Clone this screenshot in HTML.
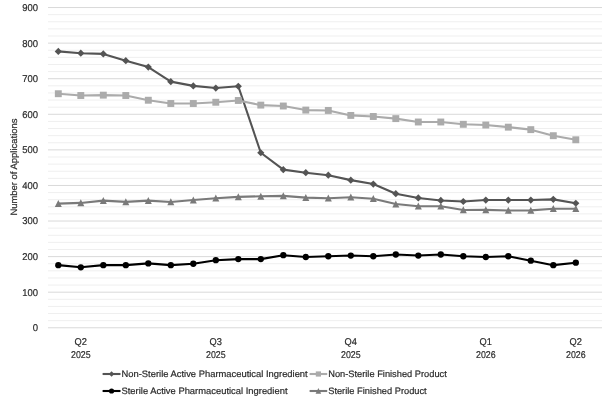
<!DOCTYPE html>
<html><head><meta charset="utf-8"><style>
html,body{margin:0;padding:0;background:#fff;width:602px;height:399px;overflow:hidden}
svg{display:block;will-change:transform;text-rendering:geometricPrecision}
.t{font-family:"Liberation Sans",sans-serif;font-size:9.3px;fill:#2a2a2a;stroke:#2a2a2a;stroke-width:0.2px}
.a{font-family:"Liberation Sans",sans-serif;font-size:9.9px;fill:#2a2a2a;stroke:#2a2a2a;stroke-width:0.2px}
</style></head><body>
<svg width="602" height="399" viewBox="0 0 602 399">
<line x1="48" x2="602" y1="320.66" y2="320.66" stroke="#EFEFEF" stroke-width="1"/>
<line x1="48" x2="602" y1="313.55" y2="313.55" stroke="#EFEFEF" stroke-width="1"/>
<line x1="48" x2="602" y1="306.43" y2="306.43" stroke="#EFEFEF" stroke-width="1"/>
<line x1="48" x2="602" y1="299.32" y2="299.32" stroke="#EFEFEF" stroke-width="1"/>
<line x1="48" x2="602" y1="285.08" y2="285.08" stroke="#EFEFEF" stroke-width="1"/>
<line x1="48" x2="602" y1="277.97" y2="277.97" stroke="#EFEFEF" stroke-width="1"/>
<line x1="48" x2="602" y1="270.85" y2="270.85" stroke="#EFEFEF" stroke-width="1"/>
<line x1="48" x2="602" y1="263.73" y2="263.73" stroke="#EFEFEF" stroke-width="1"/>
<line x1="48" x2="602" y1="249.50" y2="249.50" stroke="#EFEFEF" stroke-width="1"/>
<line x1="48" x2="602" y1="242.39" y2="242.39" stroke="#EFEFEF" stroke-width="1"/>
<line x1="48" x2="602" y1="235.27" y2="235.27" stroke="#EFEFEF" stroke-width="1"/>
<line x1="48" x2="602" y1="228.15" y2="228.15" stroke="#EFEFEF" stroke-width="1"/>
<line x1="48" x2="602" y1="213.92" y2="213.92" stroke="#EFEFEF" stroke-width="1"/>
<line x1="48" x2="602" y1="206.80" y2="206.80" stroke="#EFEFEF" stroke-width="1"/>
<line x1="48" x2="602" y1="199.69" y2="199.69" stroke="#EFEFEF" stroke-width="1"/>
<line x1="48" x2="602" y1="192.57" y2="192.57" stroke="#EFEFEF" stroke-width="1"/>
<line x1="48" x2="602" y1="178.34" y2="178.34" stroke="#EFEFEF" stroke-width="1"/>
<line x1="48" x2="602" y1="171.22" y2="171.22" stroke="#EFEFEF" stroke-width="1"/>
<line x1="48" x2="602" y1="164.11" y2="164.11" stroke="#EFEFEF" stroke-width="1"/>
<line x1="48" x2="602" y1="156.99" y2="156.99" stroke="#EFEFEF" stroke-width="1"/>
<line x1="48" x2="602" y1="142.76" y2="142.76" stroke="#EFEFEF" stroke-width="1"/>
<line x1="48" x2="602" y1="135.64" y2="135.64" stroke="#EFEFEF" stroke-width="1"/>
<line x1="48" x2="602" y1="128.53" y2="128.53" stroke="#EFEFEF" stroke-width="1"/>
<line x1="48" x2="602" y1="121.41" y2="121.41" stroke="#EFEFEF" stroke-width="1"/>
<line x1="48" x2="602" y1="107.18" y2="107.18" stroke="#EFEFEF" stroke-width="1"/>
<line x1="48" x2="602" y1="100.06" y2="100.06" stroke="#EFEFEF" stroke-width="1"/>
<line x1="48" x2="602" y1="92.95" y2="92.95" stroke="#EFEFEF" stroke-width="1"/>
<line x1="48" x2="602" y1="85.83" y2="85.83" stroke="#EFEFEF" stroke-width="1"/>
<line x1="48" x2="602" y1="71.60" y2="71.60" stroke="#EFEFEF" stroke-width="1"/>
<line x1="48" x2="602" y1="64.48" y2="64.48" stroke="#EFEFEF" stroke-width="1"/>
<line x1="48" x2="602" y1="57.36" y2="57.36" stroke="#EFEFEF" stroke-width="1"/>
<line x1="48" x2="602" y1="50.25" y2="50.25" stroke="#EFEFEF" stroke-width="1"/>
<line x1="48" x2="602" y1="36.02" y2="36.02" stroke="#EFEFEF" stroke-width="1"/>
<line x1="48" x2="602" y1="28.90" y2="28.90" stroke="#EFEFEF" stroke-width="1"/>
<line x1="48" x2="602" y1="21.78" y2="21.78" stroke="#EFEFEF" stroke-width="1"/>
<line x1="48" x2="602" y1="14.67" y2="14.67" stroke="#EFEFEF" stroke-width="1"/>
<line x1="48" x2="602" y1="327.78" y2="327.78" stroke="#D9D9D9" stroke-width="1"/>
<line x1="48" x2="602" y1="292.20" y2="292.20" stroke="#D9D9D9" stroke-width="1"/>
<line x1="48" x2="602" y1="256.62" y2="256.62" stroke="#D9D9D9" stroke-width="1"/>
<line x1="48" x2="602" y1="221.04" y2="221.04" stroke="#D9D9D9" stroke-width="1"/>
<line x1="48" x2="602" y1="185.46" y2="185.46" stroke="#D9D9D9" stroke-width="1"/>
<line x1="48" x2="602" y1="149.87" y2="149.87" stroke="#D9D9D9" stroke-width="1"/>
<line x1="48" x2="602" y1="114.29" y2="114.29" stroke="#D9D9D9" stroke-width="1"/>
<line x1="48" x2="602" y1="78.71" y2="78.71" stroke="#D9D9D9" stroke-width="1"/>
<line x1="48" x2="602" y1="43.13" y2="43.13" stroke="#D9D9D9" stroke-width="1"/>
<line x1="48" x2="602" y1="7.55" y2="7.55" stroke="#D9D9D9" stroke-width="1"/>
<text x="38.0" y="331.18" text-anchor="end" class="a" textLength="5.3" lengthAdjust="spacingAndGlyphs">0</text>
<text x="38.0" y="295.60" text-anchor="end" class="a" textLength="15.8" lengthAdjust="spacingAndGlyphs">100</text>
<text x="38.0" y="260.02" text-anchor="end" class="a" textLength="15.8" lengthAdjust="spacingAndGlyphs">200</text>
<text x="38.0" y="224.44" text-anchor="end" class="a" textLength="15.8" lengthAdjust="spacingAndGlyphs">300</text>
<text x="38.0" y="188.86" text-anchor="end" class="a" textLength="15.8" lengthAdjust="spacingAndGlyphs">400</text>
<text x="38.0" y="153.27" text-anchor="end" class="a" textLength="15.8" lengthAdjust="spacingAndGlyphs">500</text>
<text x="38.0" y="117.69" text-anchor="end" class="a" textLength="15.8" lengthAdjust="spacingAndGlyphs">600</text>
<text x="38.0" y="82.11" text-anchor="end" class="a" textLength="15.8" lengthAdjust="spacingAndGlyphs">700</text>
<text x="38.0" y="46.53" text-anchor="end" class="a" textLength="15.8" lengthAdjust="spacingAndGlyphs">800</text>
<text x="38.0" y="10.95" text-anchor="end" class="a" textLength="15.8" lengthAdjust="spacingAndGlyphs">900</text>
<text x="80.80" y="345.2" text-anchor="middle" class="a" textLength="12.4" lengthAdjust="spacingAndGlyphs">Q2</text>
<text x="80.80" y="357.5" text-anchor="middle" class="a" textLength="19.6" lengthAdjust="spacingAndGlyphs">2025</text>
<text x="215.80" y="345.2" text-anchor="middle" class="a" textLength="12.4" lengthAdjust="spacingAndGlyphs">Q3</text>
<text x="215.80" y="357.5" text-anchor="middle" class="a" textLength="19.6" lengthAdjust="spacingAndGlyphs">2025</text>
<text x="350.80" y="345.2" text-anchor="middle" class="a" textLength="12.4" lengthAdjust="spacingAndGlyphs">Q4</text>
<text x="350.80" y="357.5" text-anchor="middle" class="a" textLength="19.6" lengthAdjust="spacingAndGlyphs">2025</text>
<text x="485.80" y="345.2" text-anchor="middle" class="a" textLength="12.4" lengthAdjust="spacingAndGlyphs">Q1</text>
<text x="485.80" y="357.5" text-anchor="middle" class="a" textLength="19.6" lengthAdjust="spacingAndGlyphs">2026</text>
<text x="575.80" y="345.2" text-anchor="middle" class="a" textLength="12.4" lengthAdjust="spacingAndGlyphs">Q2</text>
<text x="575.80" y="357.5" text-anchor="middle" class="a" textLength="19.6" lengthAdjust="spacingAndGlyphs">2026</text>
<text transform="translate(17.1,167.05) rotate(-90)" text-anchor="middle" class="t" textLength="97" lengthAdjust="spacingAndGlyphs">Number of Applications</text>
<polyline fill="none" stroke="#545454" stroke-width="2.1" stroke-linejoin="round" points="58.30,51.40 80.80,53.18 103.30,53.89 125.80,60.65 148.30,67.05 170.80,81.63 193.30,85.90 215.80,88.04 238.30,86.26 260.80,152.77 283.30,169.66 305.80,172.68 328.30,175.17 350.80,180.15 373.30,184.07 395.80,193.67 418.30,197.94 440.80,200.43 463.30,201.49 485.80,200.07 508.30,200.07 530.80,200.07 553.30,199.36 575.80,203.27"/>
<path d="M58.30 47.80L61.90 51.40L58.30 55.00L54.70 51.40Z" fill="#545454"/>
<path d="M80.80 49.58L84.40 53.18L80.80 56.78L77.20 53.18Z" fill="#545454"/>
<path d="M103.30 50.29L106.90 53.89L103.30 57.49L99.70 53.89Z" fill="#545454"/>
<path d="M125.80 57.05L129.40 60.65L125.80 64.25L122.20 60.65Z" fill="#545454"/>
<path d="M148.30 63.45L151.90 67.05L148.30 70.65L144.70 67.05Z" fill="#545454"/>
<path d="M170.80 78.03L174.40 81.63L170.80 85.23L167.20 81.63Z" fill="#545454"/>
<path d="M193.30 82.30L196.90 85.90L193.30 89.50L189.70 85.90Z" fill="#545454"/>
<path d="M215.80 84.44L219.40 88.04L215.80 91.64L212.20 88.04Z" fill="#545454"/>
<path d="M238.30 82.66L241.90 86.26L238.30 89.86L234.70 86.26Z" fill="#545454"/>
<path d="M260.80 149.17L264.40 152.77L260.80 156.37L257.20 152.77Z" fill="#545454"/>
<path d="M283.30 166.06L286.90 169.66L283.30 173.26L279.70 169.66Z" fill="#545454"/>
<path d="M305.80 169.08L309.40 172.68L305.80 176.28L302.20 172.68Z" fill="#545454"/>
<path d="M328.30 171.57L331.90 175.17L328.30 178.77L324.70 175.17Z" fill="#545454"/>
<path d="M350.80 176.55L354.40 180.15L350.80 183.75L347.20 180.15Z" fill="#545454"/>
<path d="M373.30 180.47L376.90 184.07L373.30 187.67L369.70 184.07Z" fill="#545454"/>
<path d="M395.80 190.07L399.40 193.67L395.80 197.27L392.20 193.67Z" fill="#545454"/>
<path d="M418.30 194.34L421.90 197.94L418.30 201.54L414.70 197.94Z" fill="#545454"/>
<path d="M440.80 196.83L444.40 200.43L440.80 204.03L437.20 200.43Z" fill="#545454"/>
<path d="M463.30 197.89L466.90 201.49L463.30 205.09L459.70 201.49Z" fill="#545454"/>
<path d="M485.80 196.47L489.40 200.07L485.80 203.67L482.20 200.07Z" fill="#545454"/>
<path d="M508.30 196.47L511.90 200.07L508.30 203.67L504.70 200.07Z" fill="#545454"/>
<path d="M530.80 196.47L534.40 200.07L530.80 203.67L527.20 200.07Z" fill="#545454"/>
<path d="M553.30 195.76L556.90 199.36L553.30 202.96L549.70 199.36Z" fill="#545454"/>
<path d="M575.80 199.67L579.40 203.27L575.80 206.87L572.20 203.27Z" fill="#545454"/>
<polyline fill="none" stroke="#ABABAB" stroke-width="2.1" stroke-linejoin="round" points="58.30,93.73 80.80,95.51 103.30,95.15 125.80,95.51 148.30,100.24 170.80,103.51 193.30,103.51 215.80,102.26 238.30,100.48 260.80,105.11 283.30,106.00 305.80,110.09 328.30,110.44 350.80,115.42 373.30,116.49 395.80,118.62 418.30,122.00 440.80,122.00 463.30,124.31 485.80,125.03 508.30,127.16 530.80,129.65 553.30,135.70 575.80,139.79"/>
<rect x="54.85" y="90.28" width="6.90" height="6.90" fill="#ABABAB"/>
<rect x="77.35" y="92.06" width="6.90" height="6.90" fill="#ABABAB"/>
<rect x="99.85" y="91.70" width="6.90" height="6.90" fill="#ABABAB"/>
<rect x="122.35" y="92.06" width="6.90" height="6.90" fill="#ABABAB"/>
<rect x="144.85" y="96.79" width="6.90" height="6.90" fill="#ABABAB"/>
<rect x="167.35" y="100.06" width="6.90" height="6.90" fill="#ABABAB"/>
<rect x="189.85" y="100.06" width="6.90" height="6.90" fill="#ABABAB"/>
<rect x="212.35" y="98.81" width="6.90" height="6.90" fill="#ABABAB"/>
<rect x="234.85" y="97.03" width="6.90" height="6.90" fill="#ABABAB"/>
<rect x="257.35" y="101.66" width="6.90" height="6.90" fill="#ABABAB"/>
<rect x="279.85" y="102.55" width="6.90" height="6.90" fill="#ABABAB"/>
<rect x="302.35" y="106.64" width="6.90" height="6.90" fill="#ABABAB"/>
<rect x="324.85" y="106.99" width="6.90" height="6.90" fill="#ABABAB"/>
<rect x="347.35" y="111.97" width="6.90" height="6.90" fill="#ABABAB"/>
<rect x="369.85" y="113.04" width="6.90" height="6.90" fill="#ABABAB"/>
<rect x="392.35" y="115.17" width="6.90" height="6.90" fill="#ABABAB"/>
<rect x="414.85" y="118.55" width="6.90" height="6.90" fill="#ABABAB"/>
<rect x="437.35" y="118.55" width="6.90" height="6.90" fill="#ABABAB"/>
<rect x="459.85" y="120.86" width="6.90" height="6.90" fill="#ABABAB"/>
<rect x="482.35" y="121.58" width="6.90" height="6.90" fill="#ABABAB"/>
<rect x="504.85" y="123.71" width="6.90" height="6.90" fill="#ABABAB"/>
<rect x="527.35" y="126.20" width="6.90" height="6.90" fill="#ABABAB"/>
<rect x="549.85" y="132.25" width="6.90" height="6.90" fill="#ABABAB"/>
<rect x="572.35" y="136.34" width="6.90" height="6.90" fill="#ABABAB"/>
<polyline fill="none" stroke="#000000" stroke-width="2.1" stroke-linejoin="round" points="58.30,265.16 80.80,267.29 103.30,265.16 125.80,265.16 148.30,263.38 170.80,265.16 193.30,263.74 215.80,260.18 238.30,259.11 260.80,259.11 283.30,255.20 305.80,256.98 328.30,256.27 350.80,255.56 373.30,256.27 395.80,254.49 418.30,255.56 440.80,254.49 463.30,256.27 485.80,256.98 508.30,256.27 530.80,260.71 553.30,265.16 575.80,262.67"/>
<circle cx="58.30" cy="265.16" r="3.15" fill="#000000"/>
<circle cx="80.80" cy="267.29" r="3.15" fill="#000000"/>
<circle cx="103.30" cy="265.16" r="3.15" fill="#000000"/>
<circle cx="125.80" cy="265.16" r="3.15" fill="#000000"/>
<circle cx="148.30" cy="263.38" r="3.15" fill="#000000"/>
<circle cx="170.80" cy="265.16" r="3.15" fill="#000000"/>
<circle cx="193.30" cy="263.74" r="3.15" fill="#000000"/>
<circle cx="215.80" cy="260.18" r="3.15" fill="#000000"/>
<circle cx="238.30" cy="259.11" r="3.15" fill="#000000"/>
<circle cx="260.80" cy="259.11" r="3.15" fill="#000000"/>
<circle cx="283.30" cy="255.20" r="3.15" fill="#000000"/>
<circle cx="305.80" cy="256.98" r="3.15" fill="#000000"/>
<circle cx="328.30" cy="256.27" r="3.15" fill="#000000"/>
<circle cx="350.80" cy="255.56" r="3.15" fill="#000000"/>
<circle cx="373.30" cy="256.27" r="3.15" fill="#000000"/>
<circle cx="395.80" cy="254.49" r="3.15" fill="#000000"/>
<circle cx="418.30" cy="255.56" r="3.15" fill="#000000"/>
<circle cx="440.80" cy="254.49" r="3.15" fill="#000000"/>
<circle cx="463.30" cy="256.27" r="3.15" fill="#000000"/>
<circle cx="485.80" cy="256.98" r="3.15" fill="#000000"/>
<circle cx="508.30" cy="256.27" r="3.15" fill="#000000"/>
<circle cx="530.80" cy="260.71" r="3.15" fill="#000000"/>
<circle cx="553.30" cy="265.16" r="3.15" fill="#000000"/>
<circle cx="575.80" cy="262.67" r="3.15" fill="#000000"/>
<polyline fill="none" stroke="#7A7A7A" stroke-width="2.1" stroke-linejoin="round" points="58.30,203.63 80.80,202.92 103.30,200.60 125.80,201.85 148.30,200.60 170.80,201.99 193.30,200.07 215.80,198.29 238.30,196.87 260.80,196.30 283.30,195.91 305.80,197.58 328.30,198.29 350.80,197.30 373.30,198.79 395.80,204.05 418.30,206.22 440.80,206.22 463.30,210.03 485.80,209.92 508.30,210.46 530.80,210.39 553.30,208.71 575.80,208.71"/>
<path d="M58.30 199.95L61.80 206.95L54.80 206.95Z" fill="#7A7A7A"/>
<path d="M80.80 199.24L84.30 206.24L77.30 206.24Z" fill="#7A7A7A"/>
<path d="M103.30 196.93L106.80 203.93L99.80 203.93Z" fill="#7A7A7A"/>
<path d="M125.80 198.17L129.30 205.17L122.30 205.17Z" fill="#7A7A7A"/>
<path d="M148.30 196.93L151.80 203.93L144.80 203.93Z" fill="#7A7A7A"/>
<path d="M170.80 198.32L174.30 205.32L167.30 205.32Z" fill="#7A7A7A"/>
<path d="M193.30 196.40L196.80 203.40L189.80 203.40Z" fill="#7A7A7A"/>
<path d="M215.80 194.62L219.30 201.62L212.30 201.62Z" fill="#7A7A7A"/>
<path d="M238.30 193.20L241.80 200.20L234.80 200.20Z" fill="#7A7A7A"/>
<path d="M260.80 192.63L264.30 199.63L257.30 199.63Z" fill="#7A7A7A"/>
<path d="M283.30 192.24L286.80 199.24L279.80 199.24Z" fill="#7A7A7A"/>
<path d="M305.80 193.91L309.30 200.91L302.30 200.91Z" fill="#7A7A7A"/>
<path d="M328.30 194.62L331.80 201.62L324.80 201.62Z" fill="#7A7A7A"/>
<path d="M350.80 193.62L354.30 200.62L347.30 200.62Z" fill="#7A7A7A"/>
<path d="M373.30 195.12L376.80 202.12L369.80 202.12Z" fill="#7A7A7A"/>
<path d="M395.80 200.38L399.30 207.38L392.30 207.38Z" fill="#7A7A7A"/>
<path d="M418.30 202.55L421.80 209.55L414.80 209.55Z" fill="#7A7A7A"/>
<path d="M440.80 202.55L444.30 209.55L437.30 209.55Z" fill="#7A7A7A"/>
<path d="M463.30 206.35L466.80 213.35L459.80 213.35Z" fill="#7A7A7A"/>
<path d="M485.80 206.25L489.30 213.25L482.30 213.25Z" fill="#7A7A7A"/>
<path d="M508.30 206.78L511.80 213.78L504.80 213.78Z" fill="#7A7A7A"/>
<path d="M530.80 206.71L534.30 213.71L527.30 213.71Z" fill="#7A7A7A"/>
<path d="M553.30 205.04L556.80 212.04L549.80 212.04Z" fill="#7A7A7A"/>
<path d="M575.80 205.04L579.30 212.04L572.30 212.04Z" fill="#7A7A7A"/>
<line x1="102.60" y1="374.00" x2="120.50" y2="374.00" stroke="#545454" stroke-width="2.1"/><path d="M111.55 371.30L114.25 374.00L111.55 376.70L108.85 374.00Z" fill="#545454"/><text x="121.50" y="377.30" class="t" textLength="186.2" lengthAdjust="spacingAndGlyphs">Non-Sterile Active Pharmaceutical Ingredient</text>
<line x1="309.60" y1="374.00" x2="327.20" y2="374.00" stroke="#ABABAB" stroke-width="2.1"/><rect x="315.80" y="371.40" width="5.20" height="5.20" fill="#ABABAB"/><text x="328.20" y="377.30" class="t" textLength="118.6" lengthAdjust="spacingAndGlyphs">Non-Sterile Finished Product</text>
<line x1="102.60" y1="391.00" x2="120.50" y2="391.00" stroke="#000000" stroke-width="2.1"/><circle cx="111.55" cy="391.00" r="2.60" fill="#000000"/><text x="121.50" y="394.30" class="t" textLength="166.0" lengthAdjust="spacingAndGlyphs">Sterile Active Pharmaceutical Ingredient</text>
<line x1="309.60" y1="391.00" x2="327.20" y2="391.00" stroke="#7A7A7A" stroke-width="2.1"/><path d="M318.40 388.06L321.20 393.66L315.60 393.66Z" fill="#7A7A7A"/><text x="328.20" y="394.30" class="t" textLength="98.5" lengthAdjust="spacingAndGlyphs">Sterile Finished Product</text>
</svg></body></html>
